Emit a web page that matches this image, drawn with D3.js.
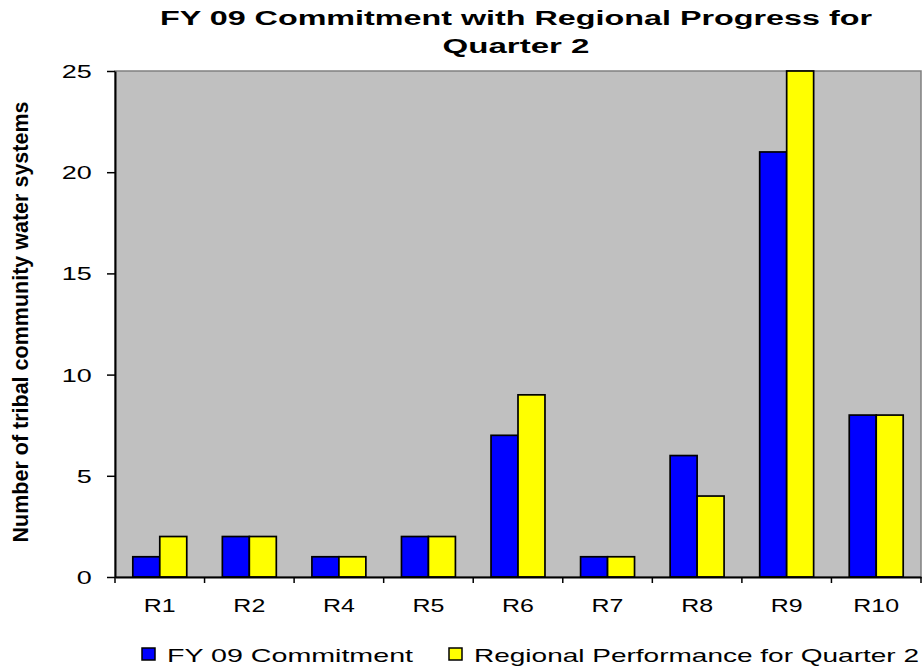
<!DOCTYPE html>
<html>
<head>
<meta charset="utf-8">
<script src="https://cdn.jsdelivr.net/npm/d3@7"></script>
<style>
  html, body { margin: 0; padding: 0; background: #fff; }
  svg { display: block; font-family: Arial, "Liberation Sans", sans-serif; }
</style>
</head>
<body>
<script>
const categories = ["R1", "R2", "R4", "R5", "R6", "R7", "R8", "R9", "R10"];
const commitment = [1, 2, 1, 2, 7, 1, 6, 21, 8];
const performance = [2, 2, 1, 2, 9, 1, 4, 25, 8];
const seriesNames = ["FY 09 Commitment", "Regional Performance for Quarter 2"];
const seriesColors = ["#0000FF", "#FFFF00"];
const yTicks = [0, 5, 10, 15, 20, 25];
const titleLines = ["FY 09 Commitment with Regional Progress for", "Quarter 2"];
const yTitle = "Number of tribal community water systems";

const W = 922, H = 668;
const plot = { left: 115, right: 921, top: 71, bottom: 577 };

const svg = d3.select("body").append("svg").attr("width", W).attr("height", H);

const x0 = d3.scaleBand().domain(categories).range([plot.left, plot.right]).padding(0);
const x1 = d3.scaleBand().domain([0, 1]).range([0, x0.bandwidth()]).paddingInner(0).paddingOuter(0.66);
const y = d3.scaleLinear().domain([0, 25]).range([plot.bottom, plot.top]);

// plot background
svg.append("rect")
  .attr("x", plot.left).attr("y", plot.top)
  .attr("width", plot.right - plot.left).attr("height", plot.bottom - plot.top)
  .attr("fill", "#C0C0C0").attr("stroke", "#808080").attr("stroke-width", 1.5);

// bars
const rows = categories.map((c, i) => ({ c, vals: [commitment[i], performance[i]] }));
const g = svg.append("g");
rows.forEach(r => {
  r.vals.forEach((v, s) => {
    g.append("rect")
      .attr("x", x0(r.c) + x1(s))
      .attr("y", y(v))
      .attr("width", x1.bandwidth())
      .attr("height", y(0) - y(v))
      .attr("fill", seriesColors[s])
      .attr("stroke", "#000").attr("stroke-width", 1.7);
  });
});

// y axis
const yAxis = svg.append("g")
  .attr("transform", `translate(${plot.left},0)`)
  .call(d3.axisLeft(y).tickValues(yTicks).tickSize(8).tickPadding(7.5).tickSizeOuter(0));
yAxis.select(".domain").attr("stroke", "#000").attr("stroke-width", 2);
yAxis.selectAll(".tick line").attr("stroke", "#000").attr("stroke-width", 1.5);
yAxis.selectAll(".tick text")
  .attr("font-size", 18).attr("fill", "#000")
  .attr("font-family", "Arial, 'Liberation Sans', sans-serif")
  .attr("dy", "0.36em")
  .attr("transform", "scale(1.5,1)");

// x axis
const xAxis = svg.append("g")
  .attr("transform", `translate(0,${plot.bottom})`)
  .call(d3.axisBottom(x0).tickSize(0).tickPadding(22).tickSizeOuter(0));
xAxis.select(".domain").attr("stroke", "#000").attr("stroke-width", 2);
xAxis.selectAll(".tick text")
  .attr("font-size", 18.5).attr("fill", "#000")
  .attr("font-family", "Arial, 'Liberation Sans', sans-serif")
  .attr("transform", "scale(1.35,1)");
// boundary tick marks
const bounds = categories.map(c => x0(c)).concat([x0(categories[categories.length - 1]) + x0.bandwidth()]);
xAxis.selectAll(".btick").data(bounds).enter().append("line")
  .attr("x1", d => d).attr("x2", d => d)
  .attr("y1", 0).attr("y2", 6)
  .attr("stroke", "#000").attr("stroke-width", 1.5);

// title
const titleBase = [25, 53];
const titleLens = [712, 147];
titleLines.forEach((t, i) => {
  svg.append("text")
    .attr("x", 516).attr("y", titleBase[i])
    .attr("text-anchor", "middle")
    .attr("font-size", 19.5).attr("font-weight", "bold")
    .attr("textLength", titleLens[i]).attr("lengthAdjust", "spacingAndGlyphs")
    .text(t);
});

// y title
svg.append("text")
  .attr("transform", "translate(27.5,322) rotate(-90)")
  .attr("text-anchor", "middle")
  .attr("font-size", 21.5).attr("font-weight", "bold")
  .attr("textLength", 441).attr("lengthAdjust", "spacingAndGlyphs")
  .text(yTitle);

// legend
const legX = [142, 449];
const legTextX = [167, 474];
const legLens = [246, 445];
seriesNames.forEach((n, i) => {
  svg.append("rect")
    .attr("x", legX[i]).attr("y", 648)
    .attr("width", 13).attr("height", 12)
    .attr("fill", seriesColors[i]).attr("stroke", "#000").attr("stroke-width", 1.5);
  svg.append("text")
    .attr("x", legTextX[i]).attr("y", 662)
    .attr("font-size", 19)
    .attr("textLength", legLens[i]).attr("lengthAdjust", "spacingAndGlyphs")
    .text(n);
});
</script>
</body>
</html>
